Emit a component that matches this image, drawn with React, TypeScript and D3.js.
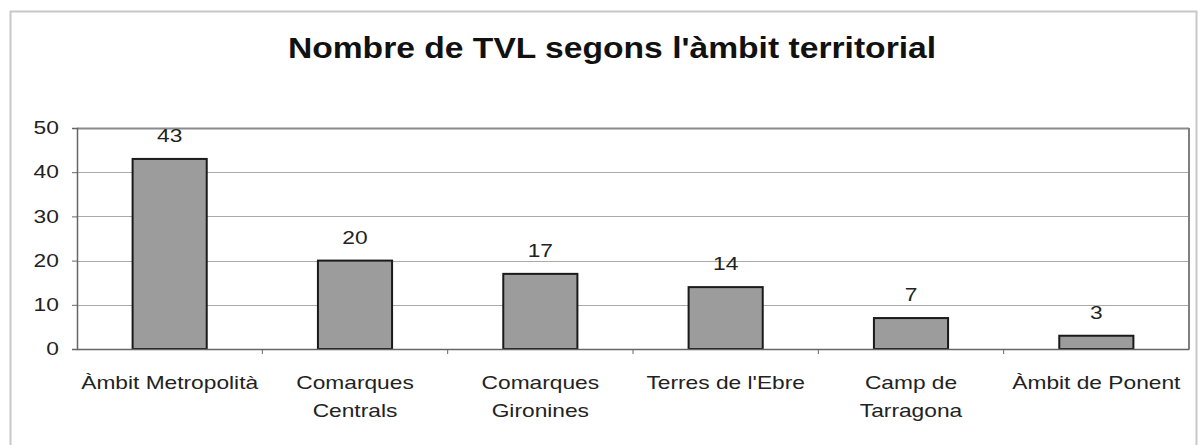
import { useEffect, useRef } from 'react';
import { select, scaleBand, scaleLinear, axisLeft, axisBottom } from 'd3';

const width = 1204;
const height = 445;
const margin = { top: 128, right: 15, bottom: 96, left: 77 };

const categories = [
  ['Àmbit Metropolità'],
  ['Comarques', 'Centrals'],
  ['Comarques', 'Gironines'],
  ["Terres de l'Ebre"],
  ['Camp de', 'Tarragona'],
  ['Àmbit de Ponent'],
];
const values = [43, 20, 17, 14, 7, 3];
const yTicks = [0, 10, 20, 30, 40, 50];
const title = "Nombre de TVL segons l'àmbit territorial";

const font = '"Liberation Sans", Arial, sans-serif';
// the source picture is stretched sideways, so text is widened to match
const stretch = 1.3;

function App() {
  const ref = useRef<SVGSVGElement>(null);

  useEffect(() => {
    const svg = select(ref.current);
    svg.selectAll('*').remove();

    const keys = categories.map((c) => c.join(' '));
    const x = scaleBand()
      .domain(keys)
      .range([margin.left, width - margin.right])
      .paddingInner(0.6)
      .paddingOuter(0.3);
    const y = scaleLinear()
      .domain([0, 50])
      .range([height - margin.bottom, margin.top]);

    // outer frame
    svg
      .append('rect')
      .attr('x', 10.5)
      .attr('y', 11.5)
      .attr('width', 1186)
      .attr('height', 450)
      .attr('fill', 'white')
      .attr('stroke', '#c8c8c8')
      .attr('stroke-width', 2);

    svg
      .append('text')
      .attr('transform', 'translate(612,58) scale(1.16,1)')
      .attr('text-anchor', 'middle')
      .style('font-family', font)
      .style('font-weight', 'bold')
      .style('font-size', '29px')
      .attr('fill', '#111')
      .text(title);

    // gridlines
    svg
      .append('g')
      .selectAll('line')
      .data(yTicks)
      .join('line')
      .attr('x1', margin.left)
      .attr('x2', width - margin.right)
      .attr('y1', (d) => Math.round(y(d)) + 0.5)
      .attr('y2', (d) => Math.round(y(d)) + 0.5)
      .attr('stroke', (d) => (d === 50 ? '#8a8a8a' : '#aaaaaa'))
      .attr('stroke-width', (d) => (d === 50 ? 2 : 1));

    // right edge of plot
    svg
      .append('line')
      .attr('x1', width - margin.right)
      .attr('x2', width - margin.right)
      .attr('y1', y(50))
      .attr('y2', y(0))
      .attr('stroke', '#808080')
      .attr('stroke-width', 2);

    const yAxis = svg
      .append('g')
      .attr('transform', `translate(${margin.left},0)`)
      .call(axisLeft(y).tickValues(yTicks).tickSize(5).tickPadding(9));
    yAxis.select('.domain').attr('stroke', '#666').attr('stroke-width', 1.5);
    yAxis.selectAll('.tick line').attr('stroke', '#666');
    yAxis
      .selectAll('.tick text')
      .attr('transform', `scale(${stretch},1)`)
      .style('font-family', font)
      .style('font-size', '17.5px')
      .attr('fill', '#222');

    // bars
    svg
      .append('g')
      .selectAll('rect')
      .data(values)
      .join('rect')
      .attr('x', (d, i) => x(keys[i])!)
      .attr('y', (d) => y(d))
      .attr('width', x.bandwidth())
      .attr('height', (d) => y(0) - y(d))
      .attr('fill', '#9c9c9c')
      .attr('stroke', '#1a1a1a')
      .attr('stroke-width', 2);

    // value labels
    svg
      .append('g')
      .selectAll('text')
      .data(values)
      .join('text')
      .attr(
        'transform',
        (d, i) =>
          `translate(${x(keys[i])! + x.bandwidth() / 2},${y(d) - 17}) scale(${stretch},1)`
      )
      .attr('text-anchor', 'middle')
      .style('font-family', font)
      .style('font-size', '17.5px')
      .attr('fill', '#222')
      .text((d) => d);

    // x axis
    const step = x.step();
    const xAxis = svg
      .append('g')
      .attr('transform', `translate(0,${y(0)})`)
      .call(axisBottom(x).tickSize(0).tickFormat(() => ''));
    xAxis.select('.domain').attr('stroke', '#666').attr('stroke-width', 1.5);
    xAxis.selectAll('.tick').remove();
    xAxis
      .selectAll('line.sep')
      .data(keys.slice(1))
      .join('line')
      .attr('class', 'sep')
      .attr('x1', (d) => x(d)! - (step - x.bandwidth()) / 2)
      .attr('x2', (d) => x(d)! - (step - x.bandwidth()) / 2)
      .attr('y1', 0)
      .attr('y2', 5)
      .attr('stroke', '#666');

    const labels = svg
      .append('g')
      .selectAll('text')
      .data(categories)
      .join('text')
      .attr(
        'transform',
        (d, i) => `translate(${x(keys[i])! + x.bandwidth() / 2},389) scale(${stretch},1)`
      )
      .attr('text-anchor', 'middle')
      .style('font-family', font)
      .style('font-size', '17.5px')
      .attr('fill', '#222');
    labels
      .selectAll('tspan')
      .data((d) => d)
      .join('tspan')
      .attr('x', 0)
      .attr('dy', (d, i) => (i === 0 ? 0 : 28))
      .text((d) => d);
  }, []);

  return (
    <svg
      ref={ref}
      width={width}
      height={height}
      style={{ position: 'absolute', left: 0, top: 0, background: 'white' }}
    />
  );
}

export default App;
